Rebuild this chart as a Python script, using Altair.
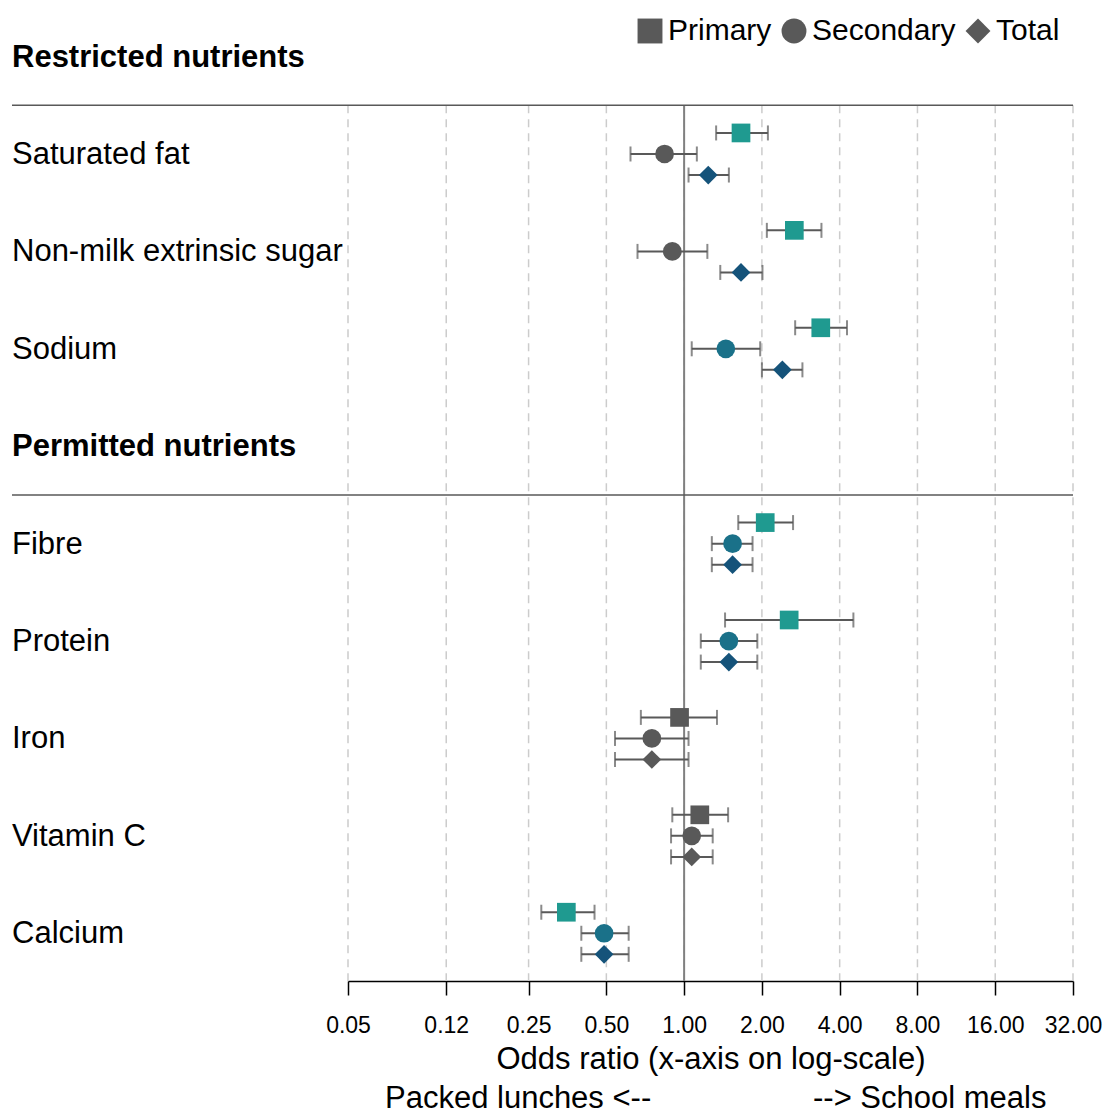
import altair as alt
import pandas as pd

# Nutrients and their vertical slot (0 and 4 are the section headers)
nutrients = ["Saturated fat", "Non-milk extrinsic sugar", "Sodium",
             "Fibre", "Protein", "Iron", "Vitamin C", "Calcium"]
rows = [1, 2, 3, 5, 6, 7, 8, 9]

headers = ["Restricted nutrients", "Permitted nutrients"]
header_rows = [0, 4]
separator_rows = [0.5, 4.5]

# Odds ratios with 95% confidence intervals
primary_or = [1.66, 2.67, 3.38, 2.06, 2.55, 0.96, 1.15, 0.35]
primary_lo = [1.33, 2.09, 2.69, 1.62, 1.44, 0.68, 0.90, 0.28]
primary_hi = [2.11, 3.40, 4.27, 2.64, 4.52, 1.34, 1.48, 0.45]

secondary_or = [0.84, 0.90, 1.45, 1.54, 1.49, 0.75, 1.07, 0.49]
secondary_lo = [0.62, 0.66, 1.07, 1.28, 1.16, 0.54, 0.89, 0.40]
secondary_hi = [1.12, 1.23, 1.97, 1.84, 1.92, 1.04, 1.29, 0.61]

total_or = [1.24, 1.66, 2.40, 1.54, 1.49, 0.75, 1.07, 0.49]
total_lo = [1.04, 1.38, 2.00, 1.28, 1.16, 0.54, 0.89, 0.40]
total_hi = [1.49, 2.01, 2.87, 1.84, 1.92, 1.04, 1.29, 0.61]

# Whether the estimate is statistically significant
primary_sig = [True, True, True, True, True, False, False, True]
secondary_sig = [False, False, True, True, True, False, False, True]
total_sig = [True, True, True, True, True, False, False, True]

tick_values = [0.05, 0.12, 0.25, 0.5, 1, 2, 4, 8, 16, 32]

groups = ["Primary", "Secondary", "Total"]
group_offset = {"Primary": -0.216, "Secondary": 0.0, "Total": 0.216}
sig_color = {"Primary": "#1f9a90", "Secondary": "#1a7189", "Total": "#15537a"}
ns_color = "#595959"

records = []
for g, ors, los, his, sigs in [
    ("Primary", primary_or, primary_lo, primary_hi, primary_sig),
    ("Secondary", secondary_or, secondary_lo, secondary_hi, secondary_sig),
    ("Total", total_or, total_lo, total_hi, total_sig),
]:
    for n, r, o, lo, hi, s in zip(nutrients, rows, ors, los, his, sigs):
        records.append({
            "nutrient": n, "group": g, "y": r + group_offset[g],
            "or": o, "lo": lo, "hi": hi,
            "col": sig_color[g] if s else ns_color,
        })
df = pd.DataFrame(records)

labels_df = pd.DataFrame({"label": nutrients, "y": rows})
headers_df = pd.DataFrame({"label": headers, "y": header_rows})
sep_df = pd.DataFrame({"y": separator_rows})
grid_df = pd.DataFrame({"x": tick_values, "y": 0.5, "y2": 9.49})
ref_df = pd.DataFrame({"x": [1.0], "y": [0.5], "y2": [9.49]})

W, H = 725, 978
FONT = "Liberation Sans"
FS = 31

xscale = alt.Scale(type="log", domain=[0.05, 32], nice=False)
yscale = alt.Scale(domain=[-0.55, 9.49], nice=False, zero=False, reverse=True)
yenc = alt.Y("y:Q", scale=yscale, axis=None)

base = alt.Chart(df)

grid = alt.Chart(grid_df).mark_rule(
    color="#cccccc", strokeWidth=1.5, strokeDash=[8, 6]
).encode(
    x=alt.X("x:Q", scale=xscale,
            axis=alt.Axis(values=tick_values, format=".2f", grid=False,
                          labelFontSize=23, labelFont=FONT, labelColor="black",
                          labelPadding=19, labelFlush=False, labelOverlap=False,
                          tickSize=14, tickColor="black", tickWidth=1.5,
                          domainColor="black", domainWidth=1.5,
                          title="Odds ratio (x-axis on log-scale)",
                          titleFont=FONT, titleFontSize=FS,
                          titleFontWeight="normal", titleColor="black",
                          titlePadding=7)),
    y=yenc, y2="y2:Q",
)

ref = alt.Chart(ref_df).mark_rule(color="#808080", strokeWidth=2).encode(
    x=alt.X("x:Q", scale=xscale), y=yenc, y2="y2:Q"
)

separators = alt.Chart(sep_df).mark_rule(color="#595959", strokeWidth=1.5).encode(
    x=alt.value(-336), x2=alt.value(W), y=yenc
)

bars = base.mark_rule(color="#595959", strokeWidth=2).encode(
    x=alt.X("lo:Q", scale=xscale), x2="hi:Q", y=yenc
)
cap_lo = base.mark_tick(color="#595959", thickness=2, size=15, orient="vertical").encode(
    x=alt.X("lo:Q", scale=xscale), y=yenc
)
cap_hi = base.mark_tick(color="#595959", thickness=2, size=15, orient="vertical").encode(
    x=alt.X("hi:Q", scale=xscale), y=yenc
)

points = base.mark_point(filled=True, opacity=1, size=350).encode(
    x=alt.X("or:Q", scale=xscale),
    y=yenc,
    color=alt.Color("col:N", scale=None),
    shape=alt.Shape(
        "group:N",
        scale=alt.Scale(domain=groups, range=["square", "circle", "diamond"]),
        legend=alt.Legend(
            title=None, orient="none", direction="horizontal",
            legendX=287, legendY=13, padding=0,
            labelFontSize=30, labelFont=FONT, labelColor="black",
            symbolSize=620, symbolFillColor="#595959",
            symbolStrokeColor="#595959", symbolStrokeWidth=0,
            symbolOpacity=1, labelOffset=3, columnPadding=7,
        ),
    ),
)

names = alt.Chart(labels_df).mark_text(
    align="left", baseline="middle", fontSize=FS, font=FONT, color="black", dy=1
).encode(x=alt.value(-336), y=yenc, text="label:N")

head = alt.Chart(headers_df).mark_text(
    align="left", baseline="middle", fontSize=FS, font=FONT,
    fontWeight="bold", color="black", dy=1
).encode(x=alt.value(-336), y=yenc, text="label:N")

left_note = alt.Chart(pd.DataFrame({"t": ["Packed lunches <--"]})).mark_text(
    align="left", baseline="middle", fontSize=FS, font=FONT, color="black"
).encode(x=alt.value(37), y=alt.value(1096), text="t:N")

right_note = alt.Chart(pd.DataFrame({"t": ["--> School meals"]})).mark_text(
    align="left", baseline="middle", fontSize=FS, font=FONT, color="black"
).encode(x=alt.value(465), y=alt.value(1096), text="t:N")

chart = alt.layer(
    grid, ref, separators, bars, cap_lo, cap_hi, points,
    names, head, left_note, right_note
).properties(
    width=W, height=H,
    background="white",
    autosize=alt.AutoSizeParams(type="none"),
    padding={"left": 348, "top": 3, "right": 34, "bottom": 134},
).configure_view(strokeWidth=0, stroke="transparent")

chart.save("out.html", embed_options={"renderer": "svg", "actions": False})
